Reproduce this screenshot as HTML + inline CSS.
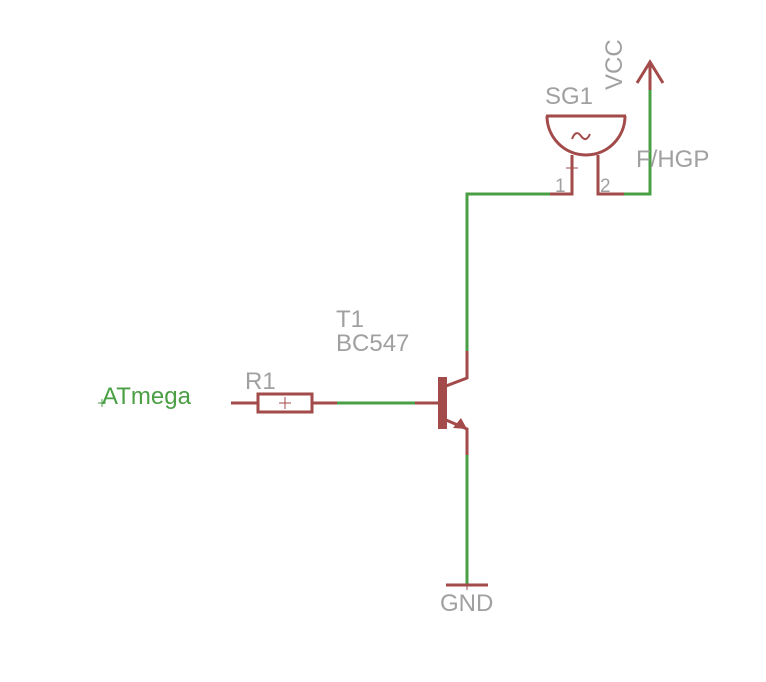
<!DOCTYPE html>
<html><head><meta charset="utf-8"><style>
html,body{margin:0;padding:0;background:#fff;}
svg{display:block;}
text{font-family:"Liberation Sans",sans-serif;}
</style></head><body>
<svg width="766" height="682" viewBox="0 0 766 682" xmlns="http://www.w3.org/2000/svg">
<g fill="none" stroke-linecap="butt">
<g stroke="#4a9f44" stroke-width="3">
<polyline points="467,351 467,194 550,194"/>
<polyline points="624,194 650,194 650,90"/>
<line x1="337" y1="403" x2="415" y2="403"/>
<line x1="467" y1="455" x2="467" y2="585"/>
</g>
<g stroke="#a34a4a" stroke-width="3">
<polyline points="550,194 572,194 572,155"/>
<polyline points="598,155 598,194 624,194"/>
<line x1="650" y1="90" x2="650" y2="62"/>
<polyline points="637,83 650,62 663,83"/>
<line x1="546" y1="116" x2="626" y2="116"/>
<path d="M547,116 A39,39 0 0 0 625,116"/>
<path d="M572,139 q4,-10 9,-3 t9,-2" stroke-width="2"/>
<line x1="231" y1="403" x2="257" y2="403"/>
<rect x="258" y="394" width="54" height="18"/>
<line x1="312" y1="403" x2="337" y2="403"/>
<line x1="415" y1="403" x2="438" y2="403"/>
<polyline points="446,386 467,378 467,351"/>
<polyline points="446,420 467,429 467,455"/>
<line x1="446" y1="585" x2="488" y2="585"/>
</g>
<g stroke="#a34a4a" stroke-width="1">
<line x1="279" y1="403" x2="291" y2="403"/><line x1="285" y1="397" x2="285" y2="409"/>
<line x1="566" y1="168" x2="578" y2="168"/>
<line x1="467" y1="585" x2="467" y2="590"/>
</g>
<rect x="438" y="377" width="9" height="52" fill="#a34a4a"/>
<polygon points="453,428 461,418 467,429" fill="#a34a4a"/>
<g stroke="#4a9f44" stroke-width="1"><line x1="98" y1="403" x2="106" y2="403"/><line x1="102" y1="399" x2="102" y2="407"/></g>
</g>
<g fill="#a0a0a0" font-size="24">
<text x="545" y="104">SG1</text>
<text x="636" y="167">F/HGP</text>
<text x="336" y="327">T1</text>
<text x="336" y="351">BC547</text>
<text x="245" y="389">R1</text>
<text x="440" y="611">GND</text>
<text x="622" y="90" transform="rotate(-90 622 90)">VCC</text>
<text x="555" y="192" font-size="19">1</text>
<text x="600" y="192" font-size="19">2</text>
</g>
<text x="102" y="404" fill="#4a9f44" font-size="24">ATmega</text>
</svg>
</body></html>
